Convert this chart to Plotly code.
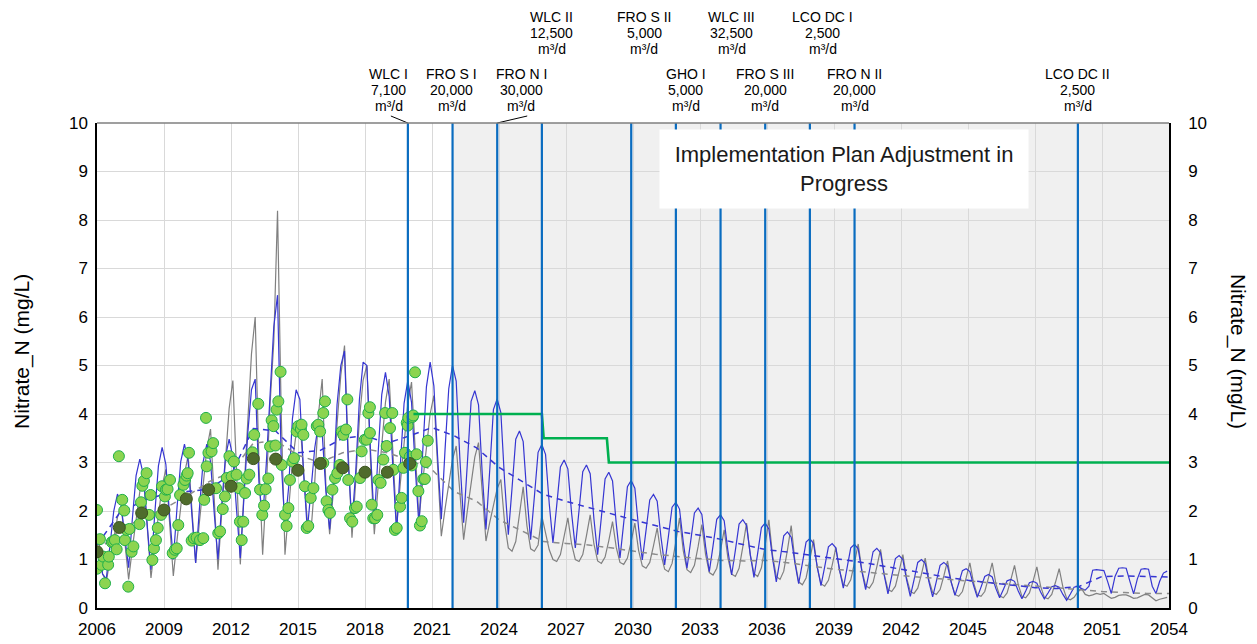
import plotly.graph_objects as go

# ---------------- data ----------------
years = list(range(2006, 2054))
sample_months = [2, 4, 6, 8, 10, 12]

blue_sim = [
    [1.20, 0.70, 0.60, 1.30, 2.00, 2.35],
    [2.12, 1.44, 0.83, 1.84, 2.73, 3.07],
    [2.73, 1.70, 0.79, 1.92, 2.93, 3.31],
    [2.96, 1.92, 1.00, 2.07, 3.02, 3.38],
    [3.01, 1.91, 0.93, 2.03, 3.01, 3.38],
    [3.02, 1.95, 1.00, 2.12, 3.11, 3.48],
    [3.11, 2.01, 1.03, 2.30, 3.60, 4.50],
    [4.72, 2.60, 1.80, 3.00, 4.50, 5.80],
    [6.45, 3.00, 1.70, 2.50, 3.90, 4.50],
    [4.30, 2.80, 1.60, 2.50, 3.30, 3.80],
    [3.60, 2.40, 1.62, 2.60, 4.20, 5.00],
    [5.30, 3.00, 1.75, 2.80, 4.30, 5.07],
    [5.00, 3.20, 1.76, 3.16, 4.40, 4.86],
    [4.36, 2.87, 1.55, 2.96, 4.22, 4.69],
    [4.24, 2.89, 1.69, 3.21, 4.56, 5.07],
    [4.58, 3.13, 1.83, 3.26, 4.52, 5.00],
    [4.68, 3.06, 1.76, 2.98, 4.26, 4.48],
    [4.19, 2.76, 1.62, 2.83, 4.09, 4.31],
    [4.03, 2.63, 1.51, 2.47, 3.48, 3.65],
    [3.43, 2.31, 1.41, 2.29, 3.21, 3.37],
    [3.17, 2.15, 1.34, 2.11, 2.91, 3.05],
    [2.87, 1.96, 1.24, 2.01, 2.81, 2.95],
    [2.77, 1.84, 1.10, 1.87, 2.66, 2.80],
    [2.62, 1.74, 1.03, 1.75, 2.50, 2.63],
    [2.47, 1.65, 0.99, 1.60, 2.23, 2.34],
    [2.20, 1.47, 0.89, 1.47, 2.08, 2.18],
    [2.04, 1.36, 0.82, 1.38, 1.96, 2.06],
    [1.93, 1.27, 0.75, 1.28, 1.83, 1.92],
    [1.80, 1.18, 0.68, 1.19, 1.73, 1.82],
    [1.70, 1.11, 0.63, 1.13, 1.66, 1.75],
    [1.63, 1.02, 0.54, 1.00, 1.49, 1.57],
    [1.46, 0.93, 0.50, 0.92, 1.36, 1.43],
    [1.33, 0.85, 0.46, 0.85, 1.26, 1.33],
    [1.24, 0.78, 0.41, 0.82, 1.24, 1.31],
    [1.22, 0.75, 0.38, 0.76, 1.16, 1.23],
    [1.14, 0.67, 0.29, 0.65, 1.02, 1.08],
    [1.00, 0.58, 0.24, 0.58, 0.94, 1.00],
    [0.92, 0.54, 0.23, 0.55, 0.88, 0.94],
    [0.87, 0.53, 0.26, 0.51, 0.77, 0.81],
    [0.75, 0.46, 0.22, 0.43, 0.65, 0.69],
    [0.64, 0.40, 0.21, 0.38, 0.56, 0.59],
    [0.55, 0.35, 0.19, 0.35, 0.52, 0.55],
    [0.51, 0.33, 0.19, 0.31, 0.44, 0.46],
    [0.43, 0.28, 0.16, 0.29, 0.43, 0.45],
    [0.40, 0.37, 0.45, 0.78, 0.79, 0.78],
    [0.77, 0.55, 0.30, 0.65, 0.82, 0.83],
    [0.82, 0.55, 0.29, 0.60, 0.80, 0.81],
    [0.80, 0.45, 0.30, 0.55, 0.72, 0.76],
]

grey_sim = [
    [1.40, 0.70, 0.55, 1.02, 1.48, 1.87],
    [2.10, 1.27, 0.59, 1.23, 1.87, 2.40],
    [2.72, 1.57, 0.62, 1.29, 1.96, 2.52],
    [2.86, 1.65, 0.66, 1.40, 2.15, 2.77],
    [3.14, 1.92, 0.93, 1.76, 2.59, 3.28],
    [3.69, 2.10, 0.79, 1.96, 3.13, 4.11],
    [4.69, 2.61, 0.90, 2.43, 3.96, 5.24],
    [6.00, 3.00, 1.10, 2.50, 4.20, 5.50],
    [8.19, 4.00, 1.10, 2.00, 3.00, 3.60],
    [3.90, 2.80, 1.80, 1.59, 2.60, 4.00],
    [4.72, 2.50, 1.52, 2.40, 3.80, 4.80],
    [5.41, 3.20, 1.45, 2.60, 3.90, 4.70],
    [5.00, 3.00, 1.52, 2.48, 3.44, 4.24],
    [4.72, 3.05, 1.69, 2.58, 3.47, 4.21],
    [4.66, 3.10, 1.83, 2.60, 3.36, 4.00],
    [4.38, 2.79, 1.48, 2.04, 2.60, 3.06],
    [3.34, 2.28, 1.41, 2.01, 2.61, 3.11],
    [3.41, 2.29, 1.38, 1.76, 2.14, 2.46],
    [2.65, 1.76, 1.24, 1.17, 1.37, 1.90],
    [2.50, 1.70, 1.22, 1.17, 1.30, 1.90],
    [1.55, 1.20, 1.00, 0.96, 1.10, 1.46],
    [1.86, 1.32, 1.00, 0.96, 1.10, 1.49],
    [1.92, 1.32, 0.97, 0.92, 1.05, 1.39],
    [1.78, 1.25, 0.94, 0.90, 1.03, 1.37],
    [1.75, 1.19, 0.87, 0.82, 0.94, 1.28],
    [1.65, 1.11, 0.80, 0.75, 0.92, 1.36],
    [1.86, 1.18, 0.79, 0.73, 0.88, 1.27],
    [1.72, 1.10, 0.73, 0.68, 0.82, 1.19],
    [1.61, 1.03, 0.70, 0.65, 0.82, 1.26],
    [1.75, 1.09, 0.71, 0.65, 0.83, 1.29],
    [1.82, 1.08, 0.65, 0.59, 0.76, 1.20],
    [1.70, 0.97, 0.54, 0.48, 0.62, 0.99],
    [1.41, 0.83, 0.50, 0.45, 0.57, 0.88],
    [1.24, 0.77, 0.49, 0.45, 0.58, 0.93],
    [1.32, 0.77, 0.46, 0.41, 0.53, 0.85],
    [1.21, 0.69, 0.38, 0.34, 0.45, 0.76],
    [1.10, 0.62, 0.34, 0.30, 0.41, 0.70],
    [1.03, 0.58, 0.32, 0.28, 0.38, 0.66],
    [0.97, 0.53, 0.28, 0.24, 0.34, 0.62],
    [0.93, 0.52, 0.27, 0.24, 0.34, 0.62],
    [0.93, 0.50, 0.25, 0.21, 0.31, 0.58],
    [0.88, 0.48, 0.24, 0.21, 0.31, 0.56],
    [0.85, 0.45, 0.22, 0.19, 0.28, 0.53],
    [0.81, 0.43, 0.20, 0.17, 0.22, 0.33],
    [0.40, 0.28, 0.25, 0.27, 0.30, 0.28],
    [0.30, 0.25, 0.20, 0.22, 0.26, 0.27],
    [0.27, 0.24, 0.20, 0.21, 0.25, 0.28],
    [0.27, 0.20, 0.15, 0.18, 0.20, 0.22],
]

trend_years = list(range(2006, 2055))
blue_trend = [1.30, 1.95, 2.20, 2.35, 2.40, 2.45, 2.75, 3.70, 3.65, 3.20,
              3.25, 3.50, 3.55, 3.40, 3.55, 3.72, 3.55, 3.30, 2.90, 2.62,
              2.34, 2.20, 2.07, 1.95, 1.82, 1.70, 1.58, 1.50, 1.41, 1.30,
              1.20, 1.15, 1.08, 1.02, 0.96, 0.88, 0.79, 0.72, 0.64, 0.57,
              0.52, 0.47, 0.42, 0.40, 0.45, 0.65, 0.66, 0.65, 0.64]
grey_trend = [1.16, 1.60, 1.85, 2.05, 2.30, 2.60, 2.80, 3.40, 3.45, 3.15,
              3.00, 3.20, 3.28, 3.20, 3.05, 2.85, 2.40, 2.20, 1.82, 1.60,
              1.37, 1.33, 1.30, 1.24, 1.17, 1.11, 1.06, 1.02, 0.98, 0.97,
              0.98, 0.93, 0.86, 0.80, 0.76, 0.71, 0.67, 0.63, 0.59, 0.55,
              0.52, 0.49, 0.45, 0.42, 0.38, 0.34, 0.32, 0.30, 0.30]

obs_t = [2006.0, 2006.0, 2006.13, 2006.2, 2006.28, 2006.36, 2006.5, 2006.53, 2006.66, 2006.73, 2006.8, 2006.88, 2006.98,
         2007.13, 2007.22, 2007.25, 2007.33, 2007.4, 2007.45, 2007.55, 2007.63, 2007.9, 2007.97,
         2008.03, 2008.1, 2008.22, 2008.33, 2008.4, 2008.48, 2008.55, 2008.64, 2008.72, 2008.87, 2008.91,
         2009.04, 2009.09, 2009.16, 2009.27, 2009.39, 2009.49, 2009.57, 2009.64, 2009.72, 2009.87, 2009.94,
         2010.01, 2010.06, 2010.12, 2010.24, 2010.34, 2010.46, 2010.61, 2010.76, 2010.8, 2010.88, 2010.91, 2010.99,
         2011.13, 2011.2, 2011.33, 2011.43, 2011.51, 2011.63, 2011.73, 2011.81, 2011.93,
         2012.03, 2012.13, 2012.25, 2012.36, 2012.4, 2012.48, 2012.55, 2012.63, 2012.7, 2012.82, 2012.96,
         2013.04, 2013.22, 2013.3, 2013.4, 2013.48, 2013.55, 2013.67, 2013.75, 2013.82, 2013.9, 2013.99,
         2014.04, 2014.12, 2014.22, 2014.27, 2014.42, 2014.49, 2014.57, 2014.64, 2014.75, 2014.82, 2014.94,
         2015.01, 2015.13, 2015.16, 2015.24, 2015.31, 2015.39, 2015.46, 2015.57, 2015.69, 2015.84, 2015.91, 2015.99,
         2016.13, 2016.13, 2016.21, 2016.28, 2016.36, 2016.43, 2016.54, 2016.66, 2016.76, 2016.88, 2016.96,
         2017.03, 2017.15, 2017.21, 2017.25, 2017.33, 2017.43, 2017.55, 2017.63, 2017.78, 2017.85, 2017.99,
         2018.07, 2018.15, 2018.22, 2018.22, 2018.3, 2018.37, 2018.45, 2018.55, 2018.6, 2018.7, 2018.82, 2018.9, 2018.97,
         2019.12, 2019.22, 2019.27, 2019.34, 2019.42, 2019.57, 2019.64, 2019.72, 2019.79, 2019.87, 2019.91, 2019.94,
         2020.01, 2020.09, 2020.13, 2020.16, 2020.24, 2020.31, 2020.39, 2020.46, 2020.54, 2020.61, 2020.68, 2020.73, 2020.81]
obs_v = [2.02, 0.81, 1.42, 0.89, 1.06, 0.51, 0.89, 1.06, 1.36, 1.37, 1.40, 1.21, 3.13,
         2.23, 2.01, 1.40, 1.61, 0.44, 1.63, 1.16, 1.27, 1.73, 2.18,
         2.52, 2.62, 2.78, 1.92, 2.33, 0.99, 1.23, 1.40, 1.65, 1.92, 2.51,
         2.30, 2.44, 2.45, 2.64, 1.13, 1.20, 1.23, 1.71, 2.33, 2.54, 2.64,
         2.73, 2.78, 3.20, 1.39, 1.44, 1.45, 1.40, 1.44, 2.23, 3.92, 2.92, 3.20,
         3.23, 3.40, 2.47, 1.54, 1.58, 2.04, 2.30, 2.68, 3.13,
         2.71, 3.02, 2.75, 2.47, 1.78, 1.40, 1.78, 2.37, 2.67, 2.75, 3.21,
         3.57, 4.21, 2.44, 1.92, 2.11, 2.45, 2.67, 3.33, 3.87, 3.75, 3.35,
         4.09, 4.26, 4.87, 2.95, 1.92, 1.69, 2.06, 2.64, 3.02, 3.09, 3.64,
         3.75, 3.69, 3.78, 3.57, 2.51, 1.65, 1.69, 2.27, 2.47, 3.75, 3.78, 3.64,
         2.99, 4.02, 4.26, 2.20, 2.02, 1.96, 2.44, 2.68, 2.78, 2.95, 3.64,
         3.57, 3.68, 4.30, 2.64, 1.85, 1.78, 2.06, 2.09, 2.68, 3.23, 3.47,
         3.47, 4.02, 4.14, 3.61, 2.13, 1.85, 1.85, 1.92, 2.64, 2.58, 3.06, 4.02, 3.34,
         3.71, 4.02, 2.85, 1.61, 1.65, 2.09, 2.27, 2.89, 3.20, 3.82, 3.76, 3.92,
         3.12, 2.94, 3.94, 3.97, 4.86, 3.17, 2.41, 1.70, 1.79, 2.66, 2.66, 3.01, 3.45]

annual_t = list(range(2006, 2021))
annual_v = [1.16, 1.66, 1.96, 2.02, 2.25, 2.44, 2.51, 3.08, 3.07, 2.84,
            2.98, 2.89, 2.80, 2.80, 2.98]

target_t = [2020.17, 2025.92, 2026.0, 2028.83, 2028.92, 2054.0]
target_v = [4.0, 4.0, 3.5, 3.5, 3.0, 3.0]

event_names = ["WLC I", "FRO S I", "FRO N I", "WLC II", "FRO S II", "GHO I",
               "WLC III", "FRO S III", "LCO DC I", "FRO N II", "LCO DC II"]
event_caps = ["7,100", "20,000", "30,000", "12,500", "5,000", "5,000",
              "32,500", "20,000", "2,500", "20,000", "2,500"]
event_dates = [2019.92, 2021.92, 2023.92, 2025.92, 2029.92, 2031.92,
               2033.92, 2035.92, 2037.92, 2039.92, 2049.92]

tick_years = list(range(2006, 2055, 3))

# ---------------- build ----------------
sim_t = [y + (m - 1) / 12 for y in years for m in sample_months]
blue_flat = [v for row in blue_sim for v in row]
grey_flat = [v for row in grey_sim for v in row]

BLUE = "#3636d2"
GREY = "#808080"
VBLUE = "#0a6cc0"
FONT = "Arial, Liberation Sans, sans-serif"

fig = go.Figure()
fig.add_trace(go.Scatter(x=sim_t, y=grey_flat, mode="lines",
                         line=dict(color=GREY, width=1.2), showlegend=False))
fig.add_trace(go.Scatter(x=sim_t, y=blue_flat, mode="lines",
                         line=dict(color=BLUE, width=1.2), showlegend=False))
fig.add_trace(go.Scatter(x=trend_years, y=grey_trend, mode="lines",
                         line=dict(color="#8c8c8c", width=1.5, dash="6px,5px"), showlegend=False))
fig.add_trace(go.Scatter(x=trend_years, y=blue_trend, mode="lines",
                         line=dict(color=BLUE, width=1.5, dash="6px,5px"), showlegend=False))
fig.add_trace(go.Scatter(x=target_t, y=target_v, mode="lines", yaxis="y2",
                         line=dict(color="#00b050", width=2.6), showlegend=False))
fig.add_trace(go.Scatter(x=obs_t, y=obs_v, mode="markers",
                         marker=dict(size=11, color="#8cd450", line=dict(color="#1fb04a", width=1)),
                         showlegend=False))
fig.add_trace(go.Scatter(x=annual_t, y=annual_v, mode="markers",
                         marker=dict(size=12, color="#4f6b2c", line=dict(color="#3c5420", width=1)),
                         showlegend=False))

shapes = [
    dict(type="rect", xref="x", yref="paper", x0=event_dates[1], x1=2054, y0=0, y1=1,
         fillcolor="#f0f0f0", line=dict(width=0), layer="below"),
]
for d in event_dates:
    shapes.append(dict(type="line", xref="x", yref="paper", x0=d, x1=d, y0=0, y1=1,
                       line=dict(color=VBLUE, width=2.2), layer="above"))
# leader lines for WLC I and FRO N I labels
shapes.append(dict(type="line", xref="x", yref="paper", xsizemode="pixel", ysizemode="pixel",
                   xanchor=event_dates[0], yanchor=1, x0=-17, x1=0, y0=7, y1=0,
                   line=dict(color="black", width=1)))
shapes.append(dict(type="line", xref="x", yref="paper", xsizemode="pixel", ysizemode="pixel",
                   xanchor=event_dates[2], yanchor=1, x0=0, x1=30, y0=0, y1=7,
                   line=dict(color="black", width=1)))
# top border (grey)
shapes.append(dict(type="line", xref="paper", yref="paper", x0=0, x1=1, y0=1, y1=1,
                   line=dict(color="#7f7f7f", width=1.5)))

label_shift = [-19, -1, 24, 10, 13, 10, 11, 0, 13, 0, 0]
label_top = [False, False, False, True, True, False, True, False, True, False, False]
row_offsets = {True: [106, 90, 74], False: [49, 33, 17]}
annotations = []
for name, cap, d, dx, top in zip(event_names, event_caps, event_dates, label_shift, label_top):
    for line_text, dy in zip([name, cap, "m³/d"], row_offsets[top]):
        annotations.append(dict(
            x=d, y=1, xref="x", yref="paper", xanchor="center", yanchor="middle",
            xshift=dx, yshift=dy, showarrow=False, text=line_text,
            font=dict(family=FONT, size=14, color="black")))

annotations.append(dict(
    x=0.6964, y=0.905, xref="paper", yref="paper", xanchor="center", yanchor="middle",
    showarrow=False, text="Implementation Plan Adjustment in<br>Progress",
    bgcolor="white", width=366, height=76, align="center",
    font=dict(family=FONT, size=22, color="#1a1a1a")))
annotations.append(dict(
    x=-0.07, y=0.53, xref="paper", yref="paper", xanchor="center", yanchor="middle",
    showarrow=False, text="Nitrate_N (mg/L)", textangle=-90,
    font=dict(family=FONT, size=21, color="black")))
annotations.append(dict(
    x=1.0644, y=0.53, xref="paper", yref="paper", xanchor="center", yanchor="middle",
    showarrow=False, text="Nitrate_N (mg/L)", textangle=90,
    font=dict(family=FONT, size=21, color="black")))

# the page body adds an 8 px offset, so margins are shifted by 8 px
fig.update_layout(
    width=1249, height=636,
    margin=dict(l=89, r=88, t=115, b=36, autoexpand=False),
    paper_bgcolor="white", plot_bgcolor="white",
    font=dict(family=FONT, size=17, color="black"),
    showlegend=False,
    shapes=shapes, annotations=annotations,
    xaxis=dict(range=[2006, 2054], tickvals=tick_years, ticktext=[str(t) for t in tick_years],
               showgrid=True, gridcolor="#d9d9d9", gridwidth=1, zeroline=False,
               showline=True, linecolor="black", linewidth=1.5, ticks="", automargin=False,
               tickfont=dict(family=FONT, size=17, color="black"), ticklabelstandoff=5),
    yaxis=dict(range=[0, 10], dtick=1, showgrid=True, gridcolor="#d9d9d9", gridwidth=1,
               zeroline=False, showline=True, linecolor="black", linewidth=1.5, ticks="",
               automargin=False,
               tickfont=dict(family=FONT, size=17, color="black"), ticklabelstandoff=4),
    yaxis2=dict(range=[0, 10], dtick=1, overlaying="y", side="right", showgrid=False,
                zeroline=False, showline=True, linecolor="black", linewidth=1.5, ticks="",
                automargin=False,
                tickfont=dict(family=FONT, size=17, color="black"), ticklabelstandoff=14),
)

fig.write_html("out.html")
